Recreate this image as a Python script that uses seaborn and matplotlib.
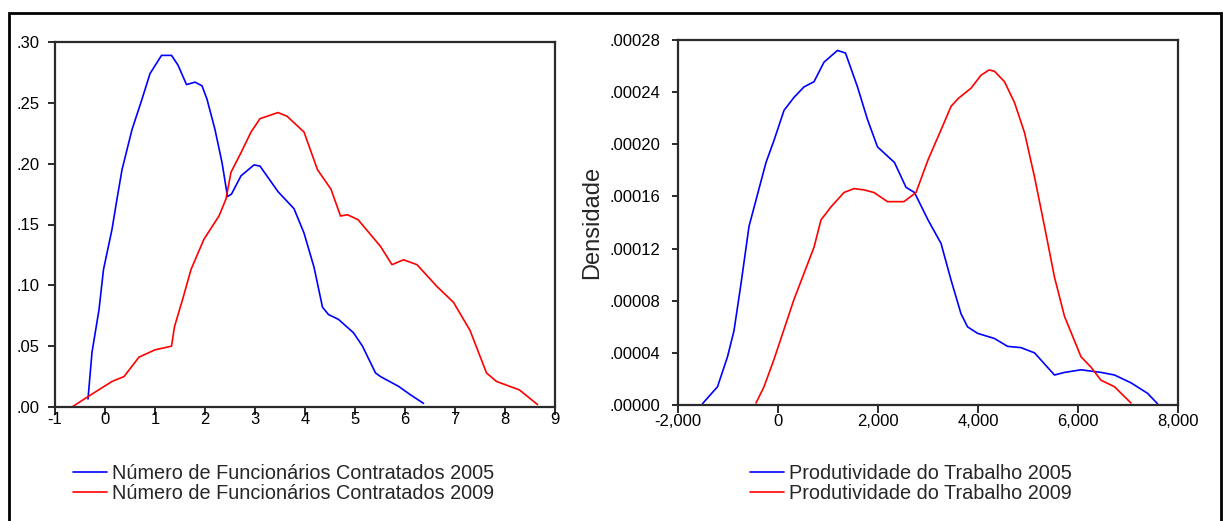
import numpy as np
import pandas as pd
import matplotlib
matplotlib.use("Agg")
import matplotlib.pyplot as plt
from matplotlib.patches import Rectangle
from matplotlib.ticker import FuncFormatter, FixedLocator
import seaborn as sns

# Kernel density estimates – number of hired employees
func_labels = ["Número de Funcionários Contratados 2005",
               "Número de Funcionários Contratados 2009"]
func_2005_x = [-0.34, -0.26, -0.12, -0.03, 0.14, 0.24, 0.34, 0.54, 0.74, 0.90, 1.13, 1.33,
               1.46, 1.63, 1.80, 1.94, 2.04, 2.20, 2.34, 2.45, 2.53, 2.72, 2.98, 3.10,
               3.46, 3.78, 3.98, 4.18, 4.35, 4.47, 4.67, 4.97, 5.15, 5.41, 5.51, 5.87,
               6.11, 6.37]
func_2005_y = [0.0066, 0.045, 0.080, 0.113, 0.146, 0.171, 0.195, 0.228, 0.253, 0.274, 0.289,
               0.289, 0.281, 0.265, 0.267, 0.264, 0.253, 0.228, 0.201, 0.173, 0.175, 0.190,
               0.199, 0.198, 0.177, 0.163, 0.143, 0.115, 0.082, 0.076, 0.072, 0.061, 0.050,
               0.028, 0.025, 0.017, 0.010, 0.003]
func_2009_x = [-0.66, -0.36, 0.14, 0.38, 0.68, 1.00, 1.33, 1.39, 1.57, 1.72, 1.98, 2.28,
               2.42, 2.52, 2.72, 2.92, 3.10, 3.46, 3.64, 3.98, 4.25, 4.52, 4.71, 4.85,
               5.06, 5.51, 5.74, 5.97, 6.24, 6.64, 6.97, 7.30, 7.63, 7.83, 8.29, 8.65]
func_2009_y = [0.000, 0.008, 0.021, 0.025, 0.041, 0.047, 0.050, 0.066, 0.091, 0.113, 0.138,
               0.157, 0.171, 0.193, 0.209, 0.226, 0.237, 0.242, 0.239, 0.226, 0.195, 0.179,
               0.157, 0.158, 0.154, 0.132, 0.117, 0.121, 0.117, 0.099, 0.086, 0.063, 0.028,
               0.021, 0.014, 0.002]
func_xticks = [-1, 0, 1, 2, 3, 4, 5, 6, 7, 8, 9]
func_yticks = [0.00, 0.05, 0.10, 0.15, 0.20, 0.25, 0.30]

# Kernel density estimates – labour productivity
prod_labels = ["Produtividade do Trabalho 2005", "Produtividade do Trabalho 2009"]
prod_2005_x = [-1510, -1210, -1010, -880, -740, -580, -400, -240, -80, 120, 320, 520, 720,
               920, 1190, 1350, 1590, 1790, 1990, 2330, 2560, 2730, 3000, 3260, 3460, 3660,
               3790, 3990, 4330, 4590, 4860, 5130, 5530, 5730, 6060, 6460, 6730, 7060, 7390,
               7590]
prod_2005_y = [1e-6, 14e-6, 37e-6, 57e-6, 93e-6, 137e-6, 163e-6, 186e-6, 203e-6, 226e-6,
               236e-6, 244e-6, 248e-6, 263e-6, 272e-6, 270e-6, 244e-6, 219e-6, 198e-6,
               186e-6, 167e-6, 163e-6, 142e-6, 124e-6, 96e-6, 70e-6, 60e-6, 55e-6, 51e-6,
               45e-6, 44e-6, 40e-6, 23e-6, 25e-6, 27e-6, 25e-6, 23e-6, 17e-6, 9e-6, 1e-6]
prod_2009_x = [-440, -280, -80, 120, 320, 520, 720, 860, 1060, 1320, 1520, 1720, 1920, 2190,
               2520, 2760, 3000, 3260, 3460, 3600, 3860, 4060, 4220, 4330, 4530, 4730, 4930,
               5130, 5330, 5530, 5730, 6060, 6260, 6460, 6730, 7060]
prod_2009_y = [1.5e-6, 14e-6, 35e-6, 58e-6, 81e-6, 101e-6, 121e-6, 142e-6, 152e-6, 163e-6,
               166e-6, 165e-6, 163e-6, 156e-6, 156e-6, 163e-6, 188e-6, 211e-6, 229e-6,
               235e-6, 243e-6, 253e-6, 257e-6, 256e-6, 248e-6, 232e-6, 209e-6, 175e-6,
               137e-6, 98e-6, 68e-6, 37e-6, 29e-6, 19e-6, 14e-6, 1.5e-6]
prod_xticks = [-2000, 0, 2000, 4000, 6000, 8000]
prod_yticks = [0.0, 0.00004, 0.00008, 0.00012, 0.00016, 0.00020, 0.00024, 0.00028]

series_colors = ["#0000ff", "#ff0000"]


def long_frame(xs, ys, labels):
    parts = []
    for x, y, lab in zip(xs, ys, labels):
        parts.append(pd.DataFrame({"x": x, "densidade": y, "serie": lab}))
    return pd.concat(parts, ignore_index=True)


df_func = long_frame([func_2005_x, func_2009_x], [func_2005_y, func_2009_y], func_labels)
df_prod = long_frame([prod_2005_x, prod_2009_x], [prod_2005_y, prod_2009_y], prod_labels)

sns.set_style("ticks")
plt.rcParams["font.family"] = ["Liberation Sans", "DejaVu Sans"]

W, H = 1223, 521
fig = plt.figure(figsize=(W / 100, H / 100), dpi=100)
ax1 = fig.add_axes([55 / W, (H - 407) / H, 500 / W, 365 / H])
ax2 = fig.add_axes([678 / W, (H - 405) / H, 500 / W, 365 / H])

spine_color = "#2a2a2a"

for ax, df, labels in [(ax1, df_func, func_labels), (ax2, df_prod, prod_labels)]:
    sns.lineplot(data=df, x="x", y="densidade", hue="serie", hue_order=labels,
                 palette=dict(zip(labels, series_colors)), estimator=None, sort=False,
                 linewidth=1.2, legend=False, ax=ax)
    ax.set_xlabel("")
    ax.set_ylabel("")
    for s in ax.spines.values():
        s.set_visible(True)
        s.set_color(spine_color)
        s.set_linewidth(1.6)
    ax.tick_params(axis="both", colors=spine_color, labelcolor="black",
                   labelsize=12, width=1.4, direction="out")
    ax.tick_params(top=False, right=False)

# number of employees panel
ax1.set_xlim(-1, 9)
ax1.set_ylim(0, 0.30)
ax1.xaxis.set_major_locator(FixedLocator(func_xticks))
ax1.yaxis.set_major_locator(FixedLocator(func_yticks))
ax1.xaxis.set_major_formatter(FuncFormatter(lambda v, p: f"{v:.0f}"))
ax1.yaxis.set_major_formatter(FuncFormatter(lambda v, p: f"{v:.2f}".lstrip("0")))
ax1.tick_params(axis="x", length=6, pad=-2.5)
ax1.tick_params(axis="y", length=5, pad=6)

# labour productivity panel
ax2.set_xlim(-2000, 8000)
ax2.set_ylim(0, 0.00028)
ax2.xaxis.set_major_locator(FixedLocator(prod_xticks))
ax2.yaxis.set_major_locator(FixedLocator(prod_yticks))
ax2.xaxis.set_major_formatter(FuncFormatter(lambda v, p: f"{v:,.0f}"))
ax2.yaxis.set_major_formatter(FuncFormatter(lambda v, p: f"{v:.5f}".lstrip("0")))
ax2.tick_params(axis="x", length=6, pad=0.5)
ax2.tick_params(axis="y", length=4, pad=9)
ax2.set_ylabel("Densidade", fontsize=17, labelpad=4)

# legends below each panel
legend_kw = dict(loc="upper left", frameon=False, fontsize=14.3, borderpad=0,
                 borderaxespad=0, handlelength=1.7, handletextpad=0.25,
                 labelspacing=0.03, bbox_transform=fig.transFigure)
ax1.legend(handles=ax1.lines[:2], labels=func_labels,
           bbox_to_anchor=(73 / W, (H - 464) / H), **legend_kw)
ax2.legend(handles=ax2.lines[:2], labels=prod_labels,
           bbox_to_anchor=(750 / W, (H - 464) / H), **legend_kw)

# outer frame
fig.patches.append(Rectangle((9 / W, -0.1), (1221 - 9) / W, 0.1 + (H - 12.5) / H,
                             transform=fig.transFigure, fill=False,
                             edgecolor="black", linewidth=2.0, zorder=10))

fig.savefig("out.png", dpi=100)
